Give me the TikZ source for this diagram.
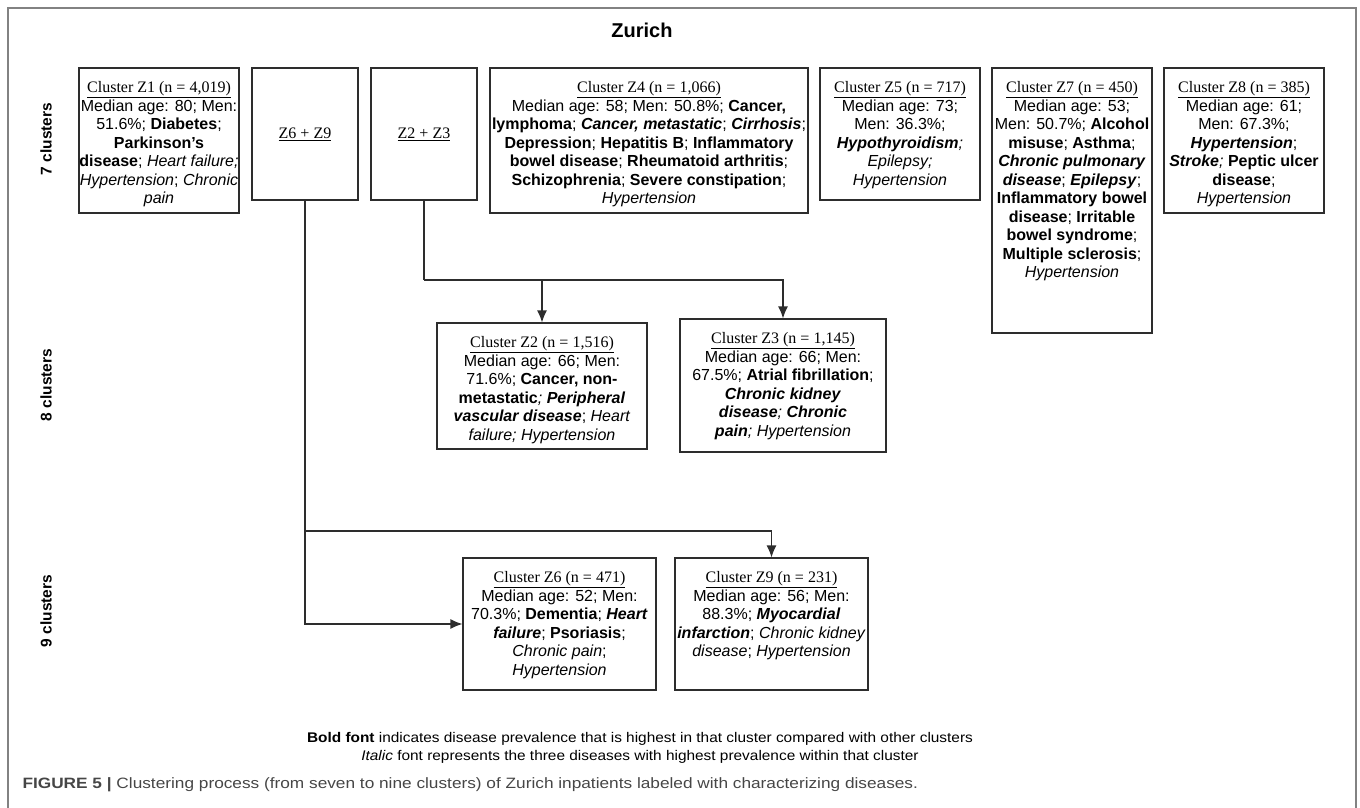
\documentclass[tikz,border=0pt]{standalone}
\usepackage{fontspec}
\setmainfont{Liberation Sans}
\newfontfamily\clserif{Liberation Serif}
\newfontfamily\notefont[FakeStretch=1.1]{Liberation Sans}
\newfontfamily\capfont[FakeStretch=1.15]{Liberation Sans}
\usetikzlibrary{arrows.meta}

\definecolor{boxline}{RGB}{45,45,45}
\definecolor{framegray}{RGB}{130,130,130}
\definecolor{captext}{RGB}{70,70,70}

\newcommand{\clhead}[1]{{\clserif\underline{#1}}}
\newcommand{\clbody}[3]{\begin{minipage}[t][#2][t]{#1}\centering\vspace*{13.5pt}#3\end{minipage}}

\begin{document}
\begin{tikzpicture}[x=1pt,y=-1pt,>={Latex[length=12pt,width=10pt]},
	cluster/.style = {draw=boxline,line width=1.2pt,inner sep=0pt,font=\fontsize{16}{18.5}\selectfont},
	merged/.style = {cluster,minimum width=106pt,minimum height=132pt},
	rowlabel/.style = {rotate=90,font=\fontsize{15.5}{18}\selectfont\bfseries},
	link/.style = {draw=boxline,line width=1.2pt}
	]
	\useasboundingbox (0,0) rectangle (1360,808);
	%cornice
	\draw[framegray,line width=1.6pt] (8,808) -- (8,8) -- (1356,8) -- (1356,808);
	\node[font=\fontsize{20}{24}\selectfont\bfseries] (title) at (642,30) {Zurich};
	%righe
	\node[rowlabel] (row7) at (46,139) {7 clusters};
	\node[rowlabel] (row8) at (46,385) {8 clusters};
	\node[rowlabel] (row9) at (46,611) {9 clusters};
	%7 cluster
	\node[cluster] (z1) at (159,140.5) {\clbody{160pt}{145pt}{\clhead{Cluster Z1 (n = 4,019)}\\
		Median age: 80; Men:\\
		51.6\%; \textbf{Diabetes};\\
		\textbf{Parkinson's}\\
		\textbf{disease}; \textit{Heart failure;}\\
		\textit{Hypertension}; \textit{Chronic}\\
		\textit{pain}}};
	\node[merged] (z69) at (305,134) {\fontsize{16}{18.5}\clserif\underline{Z6 + Z9}};
	\node[merged] (z23) at (424,134) {\fontsize{16}{18.5}\clserif\underline{Z2 + Z3}};
	\node[cluster] (z4) at (649,140.5) {\clbody{318pt}{145pt}{\clhead{Cluster Z4 (n = 1,066)}\\
		Median age: 58; Men: 50.8\%; \textbf{Cancer,}\\
		\textbf{lymphoma}; \textbf{\textit{Cancer, metastatic}}; \textbf{\textit{Cirrhosis}};\\
		\textbf{Depression}; \textbf{Hepatitis B}; \textbf{Inflammatory}\\
		\textbf{bowel disease}; \textbf{Rheumatoid arthritis};\\
		\textbf{Schizophrenia}; \textbf{Severe constipation};\\
		\textit{Hypertension}}};
	\node[cluster] (z5) at (900,134) {\clbody{160pt}{132pt}{\clhead{Cluster Z5 (n = 717)}\\
		Median age: 73;\\
		Men: 36.3\%;\\
		\textbf{\textit{Hypothyroidism}}\textit{;}\\
		\textit{Epilepsy;}\\
		\textit{Hypertension}}};
	\node[cluster] (z7) at (1072,200.5) {\clbody{160pt}{265pt}{\clhead{Cluster Z7 (n = 450)}\\
		Median age: 53;\\
		Men: 50.7\%; \textbf{Alcohol}\\
		\textbf{misuse}; \textbf{Asthma};\\
		\textbf{\textit{Chronic pulmonary}}\\
		\textbf{\textit{disease}}; \textbf{\textit{Epilepsy}};\\
		\textbf{Inflammatory bowel}\\
		\textbf{disease}; \textbf{Irritable}\\
		\textbf{bowel syndrome};\\
		\textbf{Multiple sclerosis};\\
		\textit{Hypertension}}};
	\node[cluster] (z8) at (1244,140.5) {\clbody{160pt}{145pt}{\clhead{Cluster Z8 (n = 385)}\\
		Median age: 61;\\
		Men: 67.3\%;\\
		\textbf{\textit{Hypertension}};\\
		\textbf{\textit{Stroke}}\textit{;} \textbf{Peptic ulcer}\\
		\textbf{disease};\\
		\textit{Hypertension}}};
	%8 cluster
	\node[cluster] (z2) at (542,386) {\clbody{210pt}{126pt}{\clhead{Cluster Z2 (n = 1,516)}\\
		Median age: 66; Men:\\
		71.6\%; \textbf{Cancer, non-}\\
		\textbf{metastatic}\textit{;} \textbf{\textit{Peripheral}}\\
		\textbf{\textit{vascular disease}}; \textit{Heart}\\
		\textit{failure; Hypertension}}};
	\node[cluster] (z3) at (783,385.5) {\clbody{206pt}{133pt}{\clhead{Cluster Z3 (n = 1,145)}\\
		Median age: 66; Men:\\
		67.5\%; \textbf{Atrial fibrillation};\\
		\textbf{\textit{Chronic kidney}}\\
		\textbf{\textit{disease}}\textit{;} \textbf{\textit{Chronic}}\\
		\textbf{\textit{pain}}\textit{; Hypertension}}};
	%9 cluster
	\node[cluster] (z6) at (559.5,624) {\clbody{193pt}{132pt}{\clhead{Cluster Z6 (n = 471)}\\
		Median age: 52; Men:\\
		70.3\%; \textbf{Dementia}; \textbf{\textit{Heart}}\\
		\textbf{\textit{failure}}; \textbf{Psoriasis};\\
		\textit{Chronic pain};\\
		\textit{Hypertension}}};
	\node[cluster] (z9) at (771.5,624) {\clbody{193pt}{132pt}{\clhead{Cluster Z9 (n = 231)}\\
		Median age: 56; Men:\\
		88.3\%; \textbf{\textit{Myocardial}}\\
		\textbf{\textit{infarction}}; \textit{Chronic kidney}\\
		\textit{disease}; \textit{Hypertension}}};
	%frecce
	\coordinate (split23) at (424,280);
	\coordinate (split69) at (305,531);
	\draw[link] (z23.south) -- (split23);
	\draw[link,->] (split23) -| (z2.north);
	\draw[link,->] (split23) -| (z3.north);
	\draw[link,->] (z69.south) |- (z6.west);
	\draw[link,->] (split69) -| (z9.north);
	%legenda
	\node[align=center,font=\notefont\fontsize{14}{18}\selectfont] (legend) at (640,748)
		{\textbf{Bold font} indicates disease prevalence that is highest in that cluster compared with other clusters\\
		\textit{Italic} font represents the three diseases with highest prevalence within that cluster};
	\node[anchor=west,font=\capfont\fontsize{15}{18}\selectfont,text=captext] (caption) at (19,785)
		{\textbf{FIGURE 5 |} Clustering process (from seven to nine clusters) of Zurich inpatients labeled with characterizing diseases.};
\end{tikzpicture}
\end{document}
